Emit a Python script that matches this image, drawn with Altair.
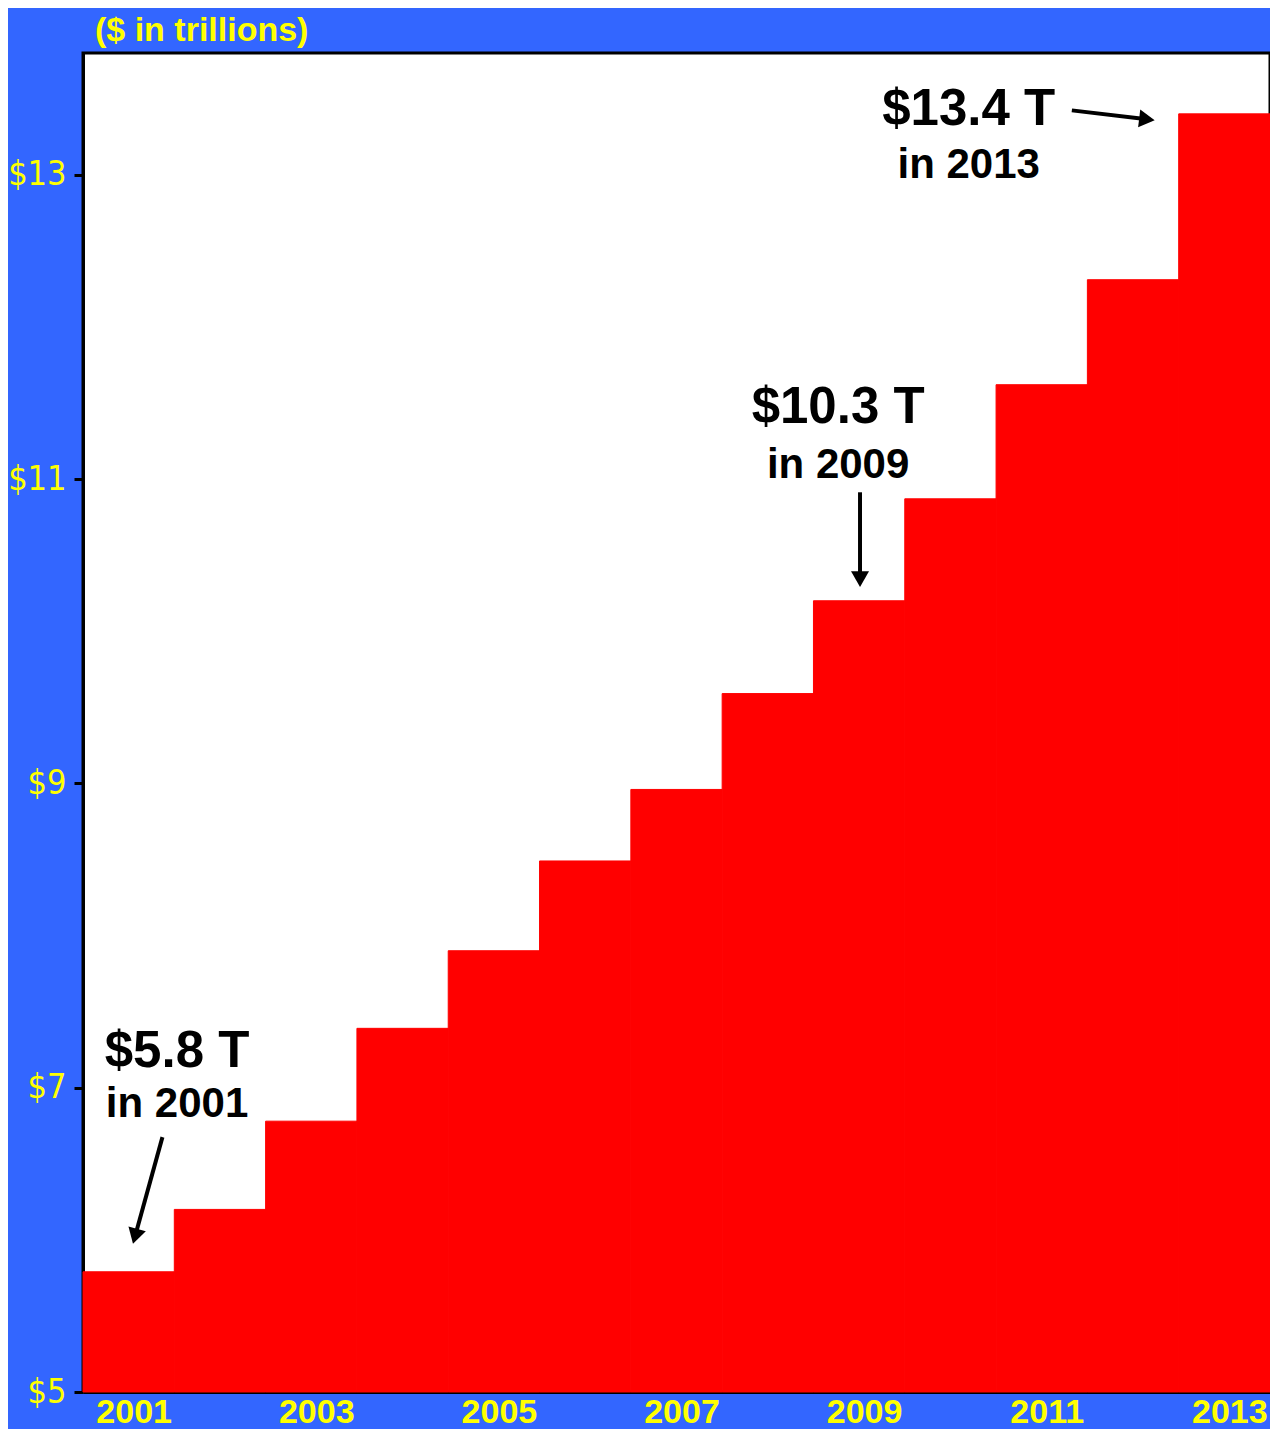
import math
import altair as alt
import pandas as pd

# ---- data ----
years = list(range(2001, 2014))
debt = [5.79, 6.20, 6.78, 7.39, 7.90, 8.49, 8.96, 9.59, 10.20, 10.87, 11.62, 12.31, 13.40]

y_ticks = [5, 7, 9, 11, 13]
x_ticks = [2001, 2003, 2005, 2007, 2009, 2011, 2013]

big_text = ["$5.8 T", "$10.3 T", "$13.4 T"]
small_text = ["in 2001", "in 2009", "in 2013"]
text_x = [2001.53, 2008.77, 2010.20]
big_y = [7.135, 11.367, 13.325]
small_y = [6.807, 11.005, 12.976]

arrow_x0 = [2001.37, 2009.01, 2011.33]
arrow_y0 = [6.675, 10.913, 13.423]
arrow_x1 = [2001.044, 2009.01, 2012.25]
arrow_y1 = [5.966, 10.283, 13.357]

# ---- layout ----
W, H = 1187, 1339
XMIN, XMAX = 2000.5, 2013.5
YMIN, YMAX = 5.0, 13.8
PX_X = W / (XMAX - XMIN)
PX_Y = H / (YMAX - YMIN)
HEAD = 18  # arrow head length in px

BLUE = "#3366FF"
YELLOW = "#FFFF00"
RED = "#FF0000"
FONT = "Liberation Sans, Arial, sans-serif"
NARROW = "'DejaVu Sans Condensed', sans-serif"

bars = pd.DataFrame({
    "year": years,
    "debt": debt,
})
bars["x0"] = bars["year"] - 0.5
bars["x1"] = bars["year"] + 0.5
bars["base"] = YMIN

labels = pd.DataFrame({"x": text_x, "big_y": big_y, "small_y": small_y,
                       "big": big_text, "small": small_text})

rows = []
for xa, ya, xb, yb in zip(arrow_x0, arrow_y0, arrow_x1, arrow_y1):
    dx = (xb - xa) * PX_X
    dy = -(yb - ya) * PX_Y  # screen down positive
    L = math.hypot(dx, dy)
    ux, uy = dx / L, dy / L
    back = HEAD / 2
    cx = xb - ux * back / PX_X
    cy = yb + uy * back / PX_Y
    ang = math.degrees(math.atan2(dx, -dy)) % 360
    rows.append({"xa": xa, "ya": ya, "xc": cx, "yc": cy, "ang": ang})
arrows = pd.DataFrame(rows)

xs = alt.Scale(domain=[XMIN, XMAX], nice=False, zero=False)
ys = alt.Scale(domain=[YMIN, YMAX], nice=False, zero=False)

x_axis = alt.Axis(values=x_ticks, format="d", title="", ticks=False, grid=False,
                  labelFont=FONT, labelFontSize=34, labelFontWeight="bold",
                  labelColor=YELLOW, labelPadding=3, labelOffset=5,
                  domainColor="black", domainWidth=3, labelFlush=False)
y_axis = alt.Axis(values=y_ticks, title="", grid=False, labelExpr="'$' + datum.value",
                  labelFont=NARROW, labelFontSize=34, labelFontWeight="normal",
                  labelColor=YELLOW, labelPadding=8, tickColor="black",
                  tickSize=9, tickWidth=3, domainColor="black", domainWidth=3,
                  labelFlush=False)

bar_layer = alt.Chart(bars).mark_rect(color=RED, stroke=RED, strokeWidth=1).encode(
    x=alt.X("x0:Q", scale=xs, axis=x_axis),
    x2="x1:Q",
    y=alt.Y("debt:Q", scale=ys, axis=y_axis),
    y2="base:Q",
)

big_layer = alt.Chart(labels).mark_text(
    font=FONT, fontSize=51, fontWeight="bold", color="black",
    align="center", baseline="alphabetic"
).encode(x=alt.X("x:Q", scale=xs), y=alt.Y("big_y:Q", scale=ys), text="big:N")

small_layer = alt.Chart(labels).mark_text(
    font=FONT, fontSize=42, fontWeight="bold", color="black",
    align="center", baseline="alphabetic"
).encode(x=alt.X("x:Q", scale=xs), y=alt.Y("small_y:Q", scale=ys), text="small:N")

shaft = alt.Chart(arrows).mark_rule(color="black", strokeWidth=4).encode(
    x=alt.X("xa:Q", scale=xs), y=alt.Y("ya:Q", scale=ys),
    x2="xc:Q", y2="yc:Q",
)

head = alt.Chart(arrows).mark_point(
    shape="triangle-up", filled=True, color="black", size=HEAD * HEAD, opacity=1
).encode(
    x=alt.X("xc:Q", scale=xs), y=alt.Y("yc:Q", scale=ys),
    angle=alt.Angle("ang:Q", scale=None),
)

chart = alt.layer(bar_layer, big_layer, small_layer, shaft, head).properties(
    width=W, height=H,
    title=alt.TitleParams("($ in trillions)", anchor="start", frame="group",
                          dx=12, offset=5, fontSize=34, color=YELLOW,
                          font=FONT, fontWeight="bold"),
    padding={"left": 75, "top": 45, "right": 0, "bottom": 37},
    autosize=alt.AutoSizeParams(type="none"),
).configure(background=BLUE).configure_view(
    fill="white", stroke="black", strokeWidth=3
)

chart.save("out.html", embed_options={"renderer": "svg", "actions": False})
